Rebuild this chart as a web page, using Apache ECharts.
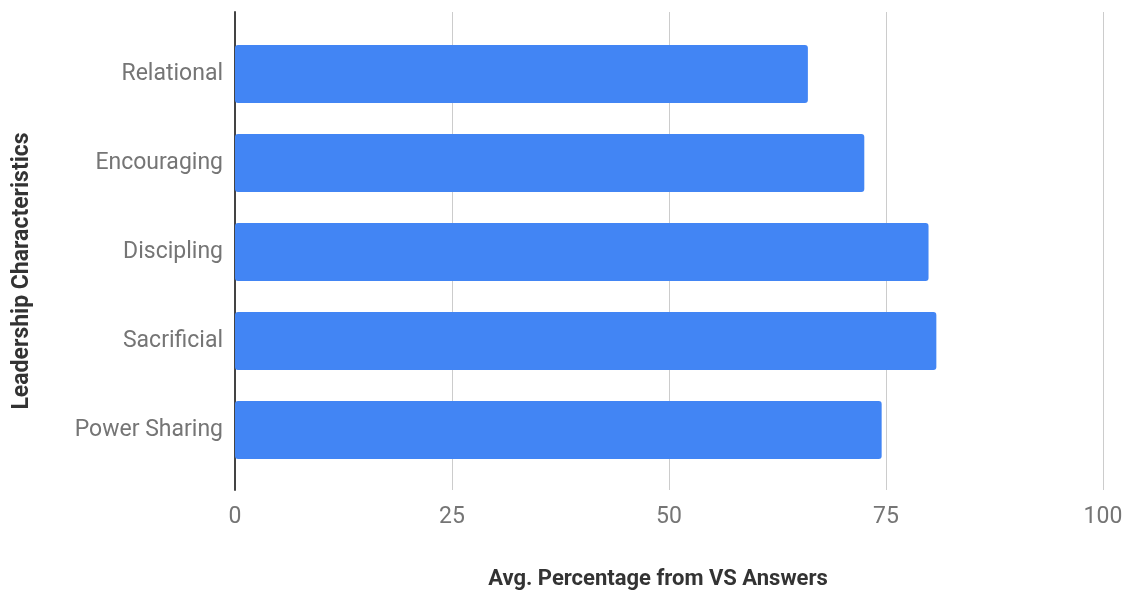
<!DOCTYPE html>
<html>
<head>
<meta charset="utf-8">
<script src="https://cdn.jsdelivr.net/npm/echarts@6/dist/echarts.min.js"></script>
<style>
  html, body { margin: 0; padding: 0; background: #fff; }
  #chart { width: 1133px; height: 594px; }
</style>
</head>
<body>
<div id="chart"></div>
<script>
// Leadership characteristics and their average percentage
const categories = ['Relational', 'Encouraging', 'Discipling', 'Sacrificial', 'Power Sharing'];
const avgPercentage = [66.0, 72.5, 79.9, 80.8, 74.5];
const xTicks = { min: 0, max: 100, interval: 25 };
const xTitle = 'Avg. Percentage from VS Answers';
const yTitle = 'Leadership Characteristics';

const FONT = 'Roboto, "Noto Sans", sans-serif';
const chart = echarts.init(document.getElementById('chart'), null, { renderer: 'canvas' });

chart.setOption({
  animation: false,
  textStyle: { fontFamily: FONT },
  grid: [
    // frame: gridlines, baseline and tick labels
    { left: 235, right: 30, top: 12, bottom: 104 },
    // bars, inset from the frame
    { left: 235, right: 30, top: 29.5, bottom: 119.5 }
  ],
  xAxis: [
    {
      gridIndex: 0, type: 'value',
      min: xTicks.min, max: xTicks.max, interval: xTicks.interval,
      axisLine: { show: false }, axisTick: { show: false },
      axisLabel: { color: '#757575', fontSize: 23, margin: 16, fontFamily: FONT },
      splitLine: {
        show: true,
        lineStyle: { color: ['rgba(0,0,0,0)', '#cccccc', '#cccccc', '#cccccc', '#cccccc'], width: 1 }
      }
    },
    {
      gridIndex: 1, type: 'value',
      min: xTicks.min, max: xTicks.max, show: false
    }
  ],
  yAxis: [
    {
      gridIndex: 0, type: 'value', min: 0, max: 1,
      axisLine: { show: true, onZero: false, lineStyle: { color: '#444444', width: 2 } },
      axisTick: { show: false }, axisLabel: { show: false }, splitLine: { show: false }
    },
    {
      gridIndex: 1, type: 'category', data: categories, inverse: true,
      axisLine: { show: false }, axisTick: { show: false },
      axisLabel: { color: '#757575', fontSize: 23, margin: 12, fontFamily: FONT },
      splitLine: { show: false }
    }
  ],
  series: [
    {
      type: 'bar',
      xAxisIndex: 1, yAxisIndex: 1,
      data: avgPercentage,
      barWidth: '65%',
      itemStyle: { color: '#4285F4', borderRadius: 3 }
    }
  ],
  graphic: [
    {
      type: 'text', x: 658, y: 568,
      style: { text: xTitle, font: 'bold 22px ' + FONT, fill: '#333333',
               textAlign: 'center', textVerticalAlign: 'top' }
    },
    {
      type: 'text', x: 11, y: 271, rotation: Math.PI / 2,
      style: { text: yTitle, font: 'bold 23px ' + FONT, fill: '#333333',
               textAlign: 'center', textVerticalAlign: 'top' }
    }
  ]
});
</script>
</body>
</html>
